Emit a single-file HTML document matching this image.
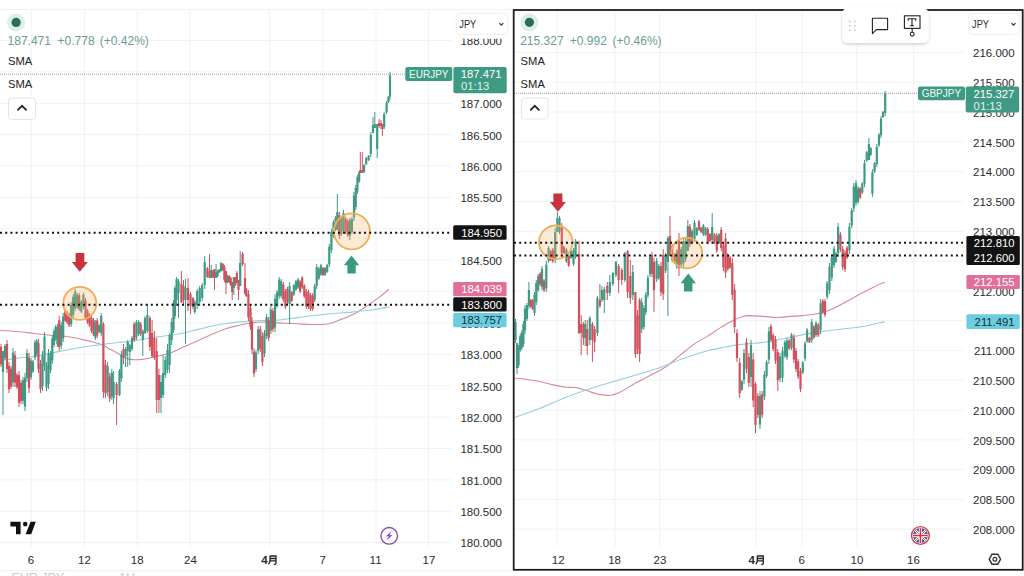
<!DOCTYPE html>
<html><head><meta charset="utf-8"><style>
html,body{margin:0;padding:0;background:#fff;}
body{width:1024px;height:576px;overflow:hidden;position:relative;font-family:"Liberation Sans", sans-serif;}
svg{position:absolute;left:0;top:0;display:block;}
text{font-family:"Liberation Sans", sans-serif;}
</style></head><body>
<svg width="1024" height="576" viewBox="0 0 1024 576">
<line x1="0" y1="542.6" x2="452" y2="542.6" stroke="#f1f2f4" stroke-width="1"/>
<line x1="0" y1="511.2" x2="452" y2="511.2" stroke="#f1f2f4" stroke-width="1"/>
<line x1="0" y1="479.9" x2="452" y2="479.9" stroke="#f1f2f4" stroke-width="1"/>
<line x1="0" y1="448.5" x2="452" y2="448.5" stroke="#f1f2f4" stroke-width="1"/>
<line x1="0" y1="417.1" x2="452" y2="417.1" stroke="#f1f2f4" stroke-width="1"/>
<line x1="0" y1="385.7" x2="452" y2="385.7" stroke="#f1f2f4" stroke-width="1"/>
<line x1="0" y1="354.3" x2="452" y2="354.3" stroke="#f1f2f4" stroke-width="1"/>
<line x1="0" y1="323.0" x2="452" y2="323.0" stroke="#f1f2f4" stroke-width="1"/>
<line x1="0" y1="291.6" x2="452" y2="291.6" stroke="#f1f2f4" stroke-width="1"/>
<line x1="0" y1="260.2" x2="452" y2="260.2" stroke="#f1f2f4" stroke-width="1"/>
<line x1="0" y1="228.8" x2="452" y2="228.8" stroke="#f1f2f4" stroke-width="1"/>
<line x1="0" y1="197.4" x2="452" y2="197.4" stroke="#f1f2f4" stroke-width="1"/>
<line x1="0" y1="166.1" x2="452" y2="166.1" stroke="#f1f2f4" stroke-width="1"/>
<line x1="0" y1="134.7" x2="452" y2="134.7" stroke="#f1f2f4" stroke-width="1"/>
<line x1="0" y1="103.3" x2="452" y2="103.3" stroke="#f1f2f4" stroke-width="1"/>
<line x1="0" y1="71.9" x2="452" y2="71.9" stroke="#f1f2f4" stroke-width="1"/>
<line x1="0" y1="40.5" x2="452" y2="40.5" stroke="#f1f2f4" stroke-width="1"/>
<line x1="0" y1="9.5" x2="512" y2="9.5" stroke="#f1f2f4" stroke-width="1"/>
<line x1="31.25" y1="9.5" x2="31.25" y2="547" stroke="#f1f2f4" stroke-width="1"/>
<line x1="84.4" y1="9.5" x2="84.4" y2="547" stroke="#f1f2f4" stroke-width="1"/>
<line x1="137.2" y1="9.5" x2="137.2" y2="547" stroke="#f1f2f4" stroke-width="1"/>
<line x1="190.1" y1="9.5" x2="190.1" y2="547" stroke="#f1f2f4" stroke-width="1"/>
<line x1="269.5" y1="9.5" x2="269.5" y2="547" stroke="#f1f2f4" stroke-width="1"/>
<line x1="322.7" y1="9.5" x2="322.7" y2="547" stroke="#f1f2f4" stroke-width="1"/>
<line x1="376" y1="9.5" x2="376" y2="547" stroke="#f1f2f4" stroke-width="1"/>
<line x1="428.5" y1="9.5" x2="428.5" y2="547" stroke="#f1f2f4" stroke-width="1"/>
<line x1="0" y1="74.2" x2="405" y2="74.2" stroke="#9aa0a6" stroke-width="1" stroke-dasharray="1 1"/>
<path d="M0,330.5 C2.3,330.6 9.1,330.8 13.7,331.2 C18.3,331.6 22.8,332.1 27.4,332.6 C31.9,333.1 36.5,333.8 41,334.3 C45.5,334.8 50.1,335.3 54.7,335.7 C59.3,336.1 63.9,336.1 68.4,336.7 C73.0,337.3 77.4,338.4 82,339.4 C86.6,340.4 92.1,341.7 95.8,342.8 C99.5,343.9 101.7,344.8 104,345.8 C106.3,346.8 107.4,347.9 109.4,349 C111.5,350.1 114.0,351.1 116.3,352.4 C118.6,353.6 120.8,355.3 123.1,356.5 C125.4,357.7 126.6,359.0 130,359.4 C133.4,359.8 139.1,359.7 143.7,359.1 C148.3,358.6 152.8,357.2 157.4,356.1 C162.0,355.0 166.4,354.3 171,352.7 C175.6,351.1 180.1,348.6 184.7,346.5 C189.3,344.4 193.8,342.4 198.4,340.4 C203.0,338.3 207.4,336.1 212,334.2 C216.6,332.2 221.2,330.2 225.8,328.7 C230.4,327.2 235.5,326.2 239.4,325.3 C243.3,324.4 245.6,323.9 249,323.3 C252.4,322.8 256.5,322.2 260,322 C263.5,321.8 266.1,322.1 270,322.3 C273.9,322.5 279.1,322.9 283.7,323.2 C288.3,323.4 292.8,323.6 297.4,323.8 C301.9,324.0 306.0,324.5 311,324.5 C316.0,324.5 322.9,324.7 327.5,324 C332.1,323.3 334.3,321.9 338.4,320.4 C342.5,318.9 347.4,317.2 352,314.9 C356.6,312.6 361.2,309.7 365.8,306.7 C370.4,303.7 375.5,300.0 379.4,297.1 C383.3,294.2 387.4,290.6 389,289.3" fill="none" stroke="#d98a9c" stroke-width="1.1"/>
<path d="M0,360.5 C3.0,360.1 12.1,358.9 17.8,358.2 C23.5,357.5 28.1,357.5 34.2,356.5 C40.4,355.5 49.0,353.5 54.7,352.4 C60.4,351.3 63.9,350.6 68.4,349.7 C73.0,348.8 77.4,347.9 82,347.2 C86.6,346.5 91.2,345.9 95.8,345.3 C100.4,344.7 104.9,344.0 109.4,343.5 C114.0,343.0 118.5,342.6 123.1,342.1 C127.7,341.6 131.1,341.2 136.8,340.3 C142.5,339.4 151.7,337.7 157.4,336.9 C163.1,336.1 166.4,336.0 171,335.3 C175.6,334.6 180.1,333.8 184.7,332.8 C189.3,331.8 193.8,330.5 198.4,329.4 C203.0,328.3 207.4,327.0 212,326 C216.6,325.0 221.2,324.2 225.8,323.5 C230.4,322.8 233.7,322.4 239.4,321.9 C245.1,321.4 253.8,320.8 260,320.5 C266.2,320.2 270.6,320.7 276.8,320.2 C283.0,319.7 289.4,318.6 297.4,317.6 C305.4,316.6 315.6,315.1 324.7,314.2 C333.8,313.3 344.0,312.8 352,312.1 C360.0,311.4 366.4,310.6 372.6,309.8 C378.8,309.0 386.3,307.6 389,307.1" fill="none" stroke="#93d0dc" stroke-width="1.1"/>
<rect x="0.50" y="344" width="1.0" height="23" fill="#d0505b"/>
<rect x="-0.10" y="346.8" width="2.2" height="17.5" fill="#d0505b"/>
<rect x="2.50" y="351" width="1.0" height="64" fill="#3f9a84"/>
<rect x="1.90" y="351.0" width="2.2" height="21.0" fill="#3f9a84"/>
<rect x="4.50" y="344" width="1.0" height="16" fill="#3f9a84"/>
<rect x="3.90" y="345.9" width="2.2" height="12.2" fill="#3f9a84"/>
<rect x="6.50" y="340" width="1.0" height="33" fill="#d0505b"/>
<rect x="5.90" y="344.0" width="2.2" height="25.1" fill="#d0505b"/>
<rect x="8.50" y="362" width="1.0" height="31" fill="#d0505b"/>
<rect x="7.90" y="365.7" width="2.2" height="23.6" fill="#d0505b"/>
<rect x="10.50" y="366" width="1.0" height="23" fill="#d0505b"/>
<rect x="9.90" y="368.8" width="2.2" height="17.5" fill="#d0505b"/>
<rect x="12.50" y="348" width="1.0" height="39" fill="#3f9a84"/>
<rect x="11.90" y="352.7" width="2.2" height="29.6" fill="#3f9a84"/>
<rect x="14.50" y="351" width="1.0" height="36" fill="#d0505b"/>
<rect x="13.90" y="355.3" width="2.2" height="27.4" fill="#d0505b"/>
<rect x="16.50" y="373" width="1.0" height="16" fill="#d0505b"/>
<rect x="15.90" y="374.9" width="2.2" height="12.2" fill="#d0505b"/>
<rect x="18.50" y="371" width="1.0" height="36" fill="#d0505b"/>
<rect x="17.90" y="375.3" width="2.2" height="27.4" fill="#d0505b"/>
<rect x="20.50" y="380" width="1.0" height="24" fill="#d0505b"/>
<rect x="19.90" y="382.9" width="2.2" height="18.2" fill="#d0505b"/>
<rect x="22.50" y="377" width="1.0" height="27" fill="#3f9a84"/>
<rect x="21.90" y="380.2" width="2.2" height="20.5" fill="#3f9a84"/>
<rect x="24.50" y="373" width="1.0" height="38" fill="#3f9a84"/>
<rect x="23.90" y="377.6" width="2.2" height="28.9" fill="#3f9a84"/>
<rect x="26.50" y="349" width="1.0" height="33" fill="#3f9a84"/>
<rect x="25.90" y="353.0" width="2.2" height="25.1" fill="#3f9a84"/>
<rect x="28.50" y="353" width="1.0" height="40" fill="#d0505b"/>
<rect x="27.90" y="357.8" width="2.2" height="30.4" fill="#d0505b"/>
<rect x="30.50" y="358" width="1.0" height="22" fill="#3f9a84"/>
<rect x="29.90" y="360.6" width="2.2" height="16.7" fill="#3f9a84"/>
<rect x="32.50" y="360" width="1.0" height="13" fill="#3f9a84"/>
<rect x="31.90" y="361.6" width="2.2" height="9.9" fill="#3f9a84"/>
<rect x="34.50" y="340" width="1.0" height="20" fill="#3f9a84"/>
<rect x="33.90" y="342.4" width="2.2" height="15.2" fill="#3f9a84"/>
<rect x="36.20" y="339" width="1.0" height="17" fill="#3f9a84"/>
<rect x="35.60" y="341.0" width="2.2" height="12.9" fill="#3f9a84"/>
<rect x="38.00" y="339" width="1.0" height="34" fill="#d0505b"/>
<rect x="37.40" y="343.1" width="2.2" height="25.8" fill="#d0505b"/>
<rect x="40.00" y="360" width="1.0" height="33" fill="#d0505b"/>
<rect x="39.40" y="364.0" width="2.2" height="25.1" fill="#d0505b"/>
<rect x="42.00" y="351" width="1.0" height="40" fill="#3f9a84"/>
<rect x="41.40" y="355.8" width="2.2" height="30.4" fill="#3f9a84"/>
<rect x="44.00" y="332" width="1.0" height="39" fill="#3f9a84"/>
<rect x="43.40" y="336.7" width="2.2" height="29.6" fill="#3f9a84"/>
<rect x="46.00" y="362" width="1.0" height="29" fill="#3f9a84"/>
<rect x="45.40" y="365.5" width="2.2" height="22.0" fill="#3f9a84"/>
<rect x="48.00" y="349" width="1.0" height="40" fill="#3f9a84"/>
<rect x="47.40" y="353.8" width="2.2" height="30.4" fill="#3f9a84"/>
<rect x="50.00" y="351" width="1.0" height="22" fill="#3f9a84"/>
<rect x="49.40" y="353.6" width="2.2" height="16.7" fill="#3f9a84"/>
<rect x="51.80" y="335" width="1.0" height="29" fill="#3f9a84"/>
<rect x="51.20" y="338.5" width="2.2" height="22.0" fill="#3f9a84"/>
<rect x="53.50" y="329" width="1.0" height="18" fill="#3f9a84"/>
<rect x="52.90" y="331.2" width="2.2" height="13.7" fill="#3f9a84"/>
<rect x="55.20" y="325" width="1.0" height="16" fill="#3f9a84"/>
<rect x="54.60" y="326.9" width="2.2" height="12.2" fill="#3f9a84"/>
<rect x="56.90" y="324" width="1.0" height="23" fill="#3f9a84"/>
<rect x="56.30" y="326.8" width="2.2" height="17.5" fill="#3f9a84"/>
<rect x="58.70" y="316" width="1.0" height="35" fill="#d0505b"/>
<rect x="58.10" y="320.2" width="2.2" height="26.6" fill="#d0505b"/>
<rect x="60.70" y="322" width="1.0" height="27" fill="#3f9a84"/>
<rect x="60.10" y="325.2" width="2.2" height="20.5" fill="#3f9a84"/>
<rect x="62.70" y="313" width="1.0" height="29" fill="#3f9a84"/>
<rect x="62.10" y="316.5" width="2.2" height="22.0" fill="#3f9a84"/>
<rect x="64.70" y="309" width="1.0" height="13" fill="#d0505b"/>
<rect x="64.10" y="310.6" width="2.2" height="9.9" fill="#d0505b"/>
<rect x="66.70" y="311" width="1.0" height="13" fill="#d0505b"/>
<rect x="66.10" y="312.6" width="2.2" height="9.9" fill="#d0505b"/>
<rect x="68.70" y="313" width="1.0" height="14" fill="#d0505b"/>
<rect x="68.10" y="314.7" width="2.2" height="10.6" fill="#d0505b"/>
<rect x="70.70" y="302" width="1.0" height="25" fill="#3f9a84"/>
<rect x="70.10" y="305.0" width="2.2" height="19.0" fill="#3f9a84"/>
<rect x="72.70" y="294" width="1.0" height="24" fill="#3f9a84"/>
<rect x="72.10" y="296.9" width="2.2" height="18.2" fill="#3f9a84"/>
<rect x="74.70" y="289" width="1.0" height="22" fill="#3f9a84"/>
<rect x="74.10" y="291.6" width="2.2" height="16.7" fill="#3f9a84"/>
<rect x="76.70" y="293" width="1.0" height="16" fill="#3f9a84"/>
<rect x="76.10" y="294.9" width="2.2" height="12.2" fill="#3f9a84"/>
<rect x="78.70" y="293" width="1.0" height="18" fill="#d0505b"/>
<rect x="78.10" y="295.2" width="2.2" height="13.7" fill="#d0505b"/>
<rect x="80.80" y="300" width="1.0" height="13" fill="#3f9a84"/>
<rect x="80.20" y="301.6" width="2.2" height="9.9" fill="#3f9a84"/>
<rect x="82.90" y="293" width="1.0" height="16" fill="#3f9a84"/>
<rect x="82.30" y="294.9" width="2.2" height="12.2" fill="#3f9a84"/>
<rect x="85.00" y="298" width="1.0" height="22" fill="#d0505b"/>
<rect x="84.40" y="300.6" width="2.2" height="16.7" fill="#d0505b"/>
<rect x="87.00" y="309" width="1.0" height="15" fill="#d0505b"/>
<rect x="86.40" y="310.8" width="2.2" height="11.4" fill="#d0505b"/>
<rect x="89.00" y="313" width="1.0" height="14" fill="#d0505b"/>
<rect x="88.40" y="314.7" width="2.2" height="10.6" fill="#d0505b"/>
<rect x="91.00" y="316" width="1.0" height="17" fill="#d0505b"/>
<rect x="90.40" y="318.0" width="2.2" height="12.9" fill="#d0505b"/>
<rect x="93.00" y="318" width="1.0" height="18" fill="#d0505b"/>
<rect x="92.40" y="320.2" width="2.2" height="13.7" fill="#d0505b"/>
<rect x="94.80" y="320" width="1.0" height="20" fill="#3f9a84"/>
<rect x="94.20" y="322.4" width="2.2" height="15.2" fill="#3f9a84"/>
<rect x="96.70" y="318" width="1.0" height="20" fill="#d0505b"/>
<rect x="96.10" y="320.4" width="2.2" height="15.2" fill="#d0505b"/>
<rect x="98.60" y="324" width="1.0" height="9" fill="#3f9a84"/>
<rect x="98.00" y="325.1" width="2.2" height="6.8" fill="#3f9a84"/>
<rect x="100.70" y="313" width="1.0" height="23" fill="#3f9a84"/>
<rect x="100.10" y="315.8" width="2.2" height="17.5" fill="#3f9a84"/>
<rect x="102.90" y="322" width="1.0" height="76" fill="#d0505b"/>
<rect x="102.30" y="324.0" width="2.2" height="68.0" fill="#d0505b"/>
<rect x="105.00" y="360" width="1.0" height="38" fill="#d0505b"/>
<rect x="104.40" y="364.6" width="2.2" height="28.9" fill="#d0505b"/>
<rect x="107.10" y="362" width="1.0" height="34" fill="#3f9a84"/>
<rect x="106.50" y="366.1" width="2.2" height="25.8" fill="#3f9a84"/>
<rect x="109.20" y="373" width="1.0" height="29" fill="#d0505b"/>
<rect x="108.60" y="376.5" width="2.2" height="22.0" fill="#d0505b"/>
<rect x="111.30" y="369" width="1.0" height="31" fill="#3f9a84"/>
<rect x="110.70" y="372.7" width="2.2" height="23.6" fill="#3f9a84"/>
<rect x="113.10" y="371" width="1.0" height="33" fill="#3f9a84"/>
<rect x="112.50" y="382.0" width="2.2" height="16.0" fill="#3f9a84"/>
<rect x="116.10" y="382" width="1.0" height="43" fill="#d0505b"/>
<rect x="115.50" y="384.0" width="2.2" height="11.0" fill="#d0505b"/>
<rect x="119.00" y="369" width="1.0" height="27" fill="#3f9a84"/>
<rect x="118.40" y="371.0" width="2.2" height="24.0" fill="#3f9a84"/>
<rect x="120.90" y="351" width="1.0" height="31" fill="#3f9a84"/>
<rect x="120.30" y="354.7" width="2.2" height="23.6" fill="#3f9a84"/>
<rect x="123.00" y="344" width="1.0" height="20" fill="#d0505b"/>
<rect x="122.40" y="349.0" width="2.2" height="9.0" fill="#d0505b"/>
<rect x="125.10" y="347" width="1.0" height="20" fill="#3f9a84"/>
<rect x="124.50" y="349.0" width="2.2" height="7.0" fill="#3f9a84"/>
<rect x="127.20" y="340" width="1.0" height="27" fill="#3f9a84"/>
<rect x="126.60" y="342.0" width="2.2" height="9.0" fill="#3f9a84"/>
<rect x="129.30" y="344" width="1.0" height="21" fill="#3f9a84"/>
<rect x="128.70" y="345.0" width="2.2" height="7.0" fill="#3f9a84"/>
<rect x="131.50" y="336" width="1.0" height="15" fill="#3f9a84"/>
<rect x="130.90" y="338.0" width="2.2" height="11.0" fill="#3f9a84"/>
<rect x="133.70" y="322" width="1.0" height="20" fill="#d0505b"/>
<rect x="133.10" y="324.0" width="2.2" height="16.0" fill="#d0505b"/>
<rect x="135.90" y="320" width="1.0" height="20" fill="#3f9a84"/>
<rect x="135.30" y="322.4" width="2.2" height="15.2" fill="#3f9a84"/>
<rect x="138.10" y="320" width="1.0" height="16" fill="#3f9a84"/>
<rect x="137.50" y="322.0" width="2.2" height="12.0" fill="#3f9a84"/>
<rect x="140.10" y="322" width="1.0" height="14" fill="#d0505b"/>
<rect x="139.50" y="324.0" width="2.2" height="10.0" fill="#d0505b"/>
<rect x="142.30" y="329" width="1.0" height="27" fill="#3f9a84"/>
<rect x="141.70" y="331.0" width="2.2" height="9.0" fill="#3f9a84"/>
<rect x="144.50" y="316" width="1.0" height="18" fill="#3f9a84"/>
<rect x="143.90" y="318.0" width="2.2" height="15.0" fill="#3f9a84"/>
<rect x="146.90" y="304" width="1.0" height="29" fill="#3f9a84"/>
<rect x="146.30" y="315.0" width="2.2" height="16.0" fill="#3f9a84"/>
<rect x="149.40" y="316" width="1.0" height="35" fill="#d0505b"/>
<rect x="148.80" y="318.0" width="2.2" height="29.0" fill="#d0505b"/>
<rect x="151.60" y="320" width="1.0" height="38" fill="#d0505b"/>
<rect x="151.00" y="333.0" width="2.2" height="23.0" fill="#d0505b"/>
<rect x="153.90" y="331" width="1.0" height="29" fill="#d0505b"/>
<rect x="153.30" y="338.0" width="2.2" height="20.0" fill="#d0505b"/>
<rect x="156.20" y="338" width="1.0" height="75" fill="#d0505b"/>
<rect x="155.60" y="351.0" width="2.2" height="49.0" fill="#d0505b"/>
<rect x="158.40" y="369" width="1.0" height="44" fill="#d0505b"/>
<rect x="157.80" y="375.0" width="2.2" height="25.0" fill="#d0505b"/>
<rect x="160.50" y="375" width="1.0" height="38" fill="#3f9a84"/>
<rect x="159.90" y="382.0" width="2.2" height="16.0" fill="#3f9a84"/>
<rect x="162.60" y="355" width="1.0" height="43" fill="#3f9a84"/>
<rect x="162.00" y="373.0" width="2.2" height="22.0" fill="#3f9a84"/>
<rect x="164.80" y="356" width="1.0" height="22" fill="#3f9a84"/>
<rect x="164.20" y="360.0" width="2.2" height="15.0" fill="#3f9a84"/>
<rect x="167.00" y="344" width="1.0" height="29" fill="#3f9a84"/>
<rect x="166.40" y="350.0" width="2.2" height="20.0" fill="#3f9a84"/>
<rect x="169.10" y="333" width="1.0" height="40" fill="#3f9a84"/>
<rect x="168.50" y="335.0" width="2.2" height="30.0" fill="#3f9a84"/>
<rect x="171.20" y="318" width="1.0" height="27" fill="#3f9a84"/>
<rect x="170.60" y="322.0" width="2.2" height="18.0" fill="#3f9a84"/>
<rect x="173.00" y="300" width="1.0" height="33" fill="#3f9a84"/>
<rect x="172.40" y="303.0" width="2.2" height="27.0" fill="#3f9a84"/>
<rect x="174.40" y="286" width="1.0" height="33" fill="#3f9a84"/>
<rect x="173.80" y="288.0" width="2.2" height="28.0" fill="#3f9a84"/>
<rect x="176.10" y="277" width="1.0" height="29" fill="#3f9a84"/>
<rect x="175.50" y="279.0" width="2.2" height="21.0" fill="#3f9a84"/>
<rect x="178.00" y="279" width="1.0" height="39" fill="#3f9a84"/>
<rect x="177.40" y="281.0" width="2.2" height="12.0" fill="#3f9a84"/>
<rect x="180.90" y="271" width="1.0" height="32" fill="#d0505b"/>
<rect x="180.30" y="284.0" width="2.2" height="18.0" fill="#d0505b"/>
<rect x="183.00" y="280" width="1.0" height="25" fill="#d0505b"/>
<rect x="182.40" y="286.0" width="2.2" height="14.0" fill="#d0505b"/>
<rect x="185.00" y="279" width="1.0" height="65" fill="#3f9a84"/>
<rect x="184.40" y="288.0" width="2.2" height="12.0" fill="#3f9a84"/>
<rect x="187.50" y="278" width="1.0" height="33" fill="#d0505b"/>
<rect x="186.90" y="288.0" width="2.2" height="12.0" fill="#d0505b"/>
<rect x="190.00" y="292" width="1.0" height="22" fill="#d0505b"/>
<rect x="189.40" y="294.0" width="2.2" height="12.0" fill="#d0505b"/>
<rect x="192.50" y="297" width="1.0" height="12" fill="#d0505b"/>
<rect x="191.90" y="298.0" width="2.2" height="9.0" fill="#d0505b"/>
<rect x="194.30" y="300" width="1.0" height="14" fill="#3f9a84"/>
<rect x="193.70" y="302.0" width="2.2" height="10.0" fill="#3f9a84"/>
<rect x="196.70" y="289" width="1.0" height="20" fill="#3f9a84"/>
<rect x="196.10" y="291.0" width="2.2" height="14.0" fill="#3f9a84"/>
<rect x="199.20" y="286" width="1.0" height="20" fill="#3f9a84"/>
<rect x="198.60" y="288.0" width="2.2" height="14.0" fill="#3f9a84"/>
<rect x="201.70" y="283" width="1.0" height="18" fill="#3f9a84"/>
<rect x="201.10" y="285.0" width="2.2" height="13.0" fill="#3f9a84"/>
<rect x="204.20" y="256" width="1.0" height="33" fill="#3f9a84"/>
<rect x="203.60" y="262.0" width="2.2" height="23.0" fill="#3f9a84"/>
<rect x="206.90" y="267" width="1.0" height="11" fill="#d0505b"/>
<rect x="206.30" y="268.3" width="2.2" height="8.4" fill="#d0505b"/>
<rect x="209.00" y="254" width="1.0" height="24" fill="#d0505b"/>
<rect x="208.40" y="271.0" width="2.2" height="7.0" fill="#d0505b"/>
<rect x="210.80" y="265" width="1.0" height="13" fill="#3f9a84"/>
<rect x="210.20" y="270.0" width="2.2" height="8.0" fill="#3f9a84"/>
<rect x="212.40" y="270" width="1.0" height="8" fill="#d0505b"/>
<rect x="211.80" y="271.0" width="2.2" height="6.1" fill="#d0505b"/>
<rect x="214.00" y="269" width="1.0" height="21" fill="#d0505b"/>
<rect x="213.40" y="269.0" width="2.2" height="9.0" fill="#d0505b"/>
<rect x="215.60" y="264" width="1.0" height="14" fill="#3f9a84"/>
<rect x="215.00" y="272.0" width="2.2" height="6.0" fill="#3f9a84"/>
<rect x="217.10" y="270" width="1.0" height="7" fill="#3f9a84"/>
<rect x="216.50" y="270.8" width="2.2" height="5.3" fill="#3f9a84"/>
<rect x="218.70" y="269" width="1.0" height="4" fill="#3f9a84"/>
<rect x="218.10" y="269.5" width="2.2" height="3.0" fill="#3f9a84"/>
<rect x="220.50" y="262" width="1.0" height="10" fill="#3f9a84"/>
<rect x="219.90" y="263.2" width="2.2" height="7.6" fill="#3f9a84"/>
<rect x="222.30" y="263" width="1.0" height="8" fill="#d0505b"/>
<rect x="221.70" y="264.0" width="2.2" height="6.1" fill="#d0505b"/>
<rect x="223.90" y="265" width="1.0" height="17" fill="#d0505b"/>
<rect x="223.30" y="267.0" width="2.2" height="12.9" fill="#d0505b"/>
<rect x="225.50" y="271" width="1.0" height="23" fill="#d0505b"/>
<rect x="224.90" y="271.0" width="2.2" height="12.0" fill="#d0505b"/>
<rect x="227.00" y="275" width="1.0" height="8" fill="#3f9a84"/>
<rect x="226.40" y="276.0" width="2.2" height="6.1" fill="#3f9a84"/>
<rect x="228.60" y="275" width="1.0" height="8" fill="#d0505b"/>
<rect x="228.00" y="276.0" width="2.2" height="6.1" fill="#d0505b"/>
<rect x="230.20" y="277" width="1.0" height="9" fill="#d0505b"/>
<rect x="229.60" y="278.1" width="2.2" height="6.8" fill="#d0505b"/>
<rect x="231.70" y="282" width="1.0" height="18" fill="#d0505b"/>
<rect x="231.10" y="282.0" width="2.2" height="10.0" fill="#d0505b"/>
<rect x="233.30" y="277" width="1.0" height="18" fill="#3f9a84"/>
<rect x="232.70" y="277.0" width="2.2" height="11.0" fill="#3f9a84"/>
<rect x="234.80" y="277" width="1.0" height="9" fill="#d0505b"/>
<rect x="234.20" y="278.1" width="2.2" height="6.8" fill="#d0505b"/>
<rect x="236.40" y="271" width="1.0" height="12" fill="#d0505b"/>
<rect x="235.80" y="273.0" width="2.2" height="10.0" fill="#d0505b"/>
<rect x="238.00" y="280" width="1.0" height="20" fill="#d0505b"/>
<rect x="237.40" y="280.0" width="2.2" height="10.0" fill="#d0505b"/>
<rect x="239.70" y="251" width="1.0" height="35" fill="#3f9a84"/>
<rect x="239.10" y="263.0" width="2.2" height="23.0" fill="#3f9a84"/>
<rect x="242.10" y="252" width="1.0" height="14" fill="#d0505b"/>
<rect x="241.50" y="253.7" width="2.2" height="10.6" fill="#d0505b"/>
<rect x="244.50" y="263" width="1.0" height="31" fill="#d0505b"/>
<rect x="243.90" y="278.0" width="2.2" height="16.0" fill="#d0505b"/>
<rect x="245.80" y="288" width="1.0" height="9" fill="#d0505b"/>
<rect x="245.20" y="289.1" width="2.2" height="6.8" fill="#d0505b"/>
<rect x="247.90" y="290" width="1.0" height="31" fill="#d0505b"/>
<rect x="247.30" y="293.7" width="2.2" height="23.6" fill="#d0505b"/>
<rect x="250.00" y="305" width="1.0" height="25" fill="#d0505b"/>
<rect x="249.40" y="308.0" width="2.2" height="19.0" fill="#d0505b"/>
<rect x="251.50" y="317" width="1.0" height="37" fill="#d0505b"/>
<rect x="250.90" y="321.4" width="2.2" height="28.1" fill="#d0505b"/>
<rect x="253.50" y="348" width="1.0" height="29" fill="#d0505b"/>
<rect x="252.90" y="351.5" width="2.2" height="22.0" fill="#d0505b"/>
<rect x="255.50" y="350" width="1.0" height="22" fill="#3f9a84"/>
<rect x="254.90" y="352.6" width="2.2" height="16.7" fill="#3f9a84"/>
<rect x="257.70" y="326" width="1.0" height="28" fill="#3f9a84"/>
<rect x="257.10" y="329.4" width="2.2" height="21.3" fill="#3f9a84"/>
<rect x="259.80" y="326" width="1.0" height="26" fill="#d0505b"/>
<rect x="259.20" y="329.1" width="2.2" height="19.8" fill="#d0505b"/>
<rect x="261.90" y="332" width="1.0" height="34" fill="#d0505b"/>
<rect x="261.30" y="336.1" width="2.2" height="25.8" fill="#d0505b"/>
<rect x="264.00" y="330" width="1.0" height="27" fill="#3f9a84"/>
<rect x="263.40" y="333.2" width="2.2" height="20.5" fill="#3f9a84"/>
<rect x="266.10" y="314" width="1.0" height="25" fill="#3f9a84"/>
<rect x="265.50" y="317.0" width="2.2" height="19.0" fill="#3f9a84"/>
<rect x="268.20" y="317" width="1.0" height="24" fill="#d0505b"/>
<rect x="267.60" y="319.9" width="2.2" height="18.2" fill="#d0505b"/>
<rect x="270.30" y="306" width="1.0" height="28" fill="#3f9a84"/>
<rect x="269.70" y="309.4" width="2.2" height="21.3" fill="#3f9a84"/>
<rect x="272.40" y="308" width="1.0" height="24" fill="#d0505b"/>
<rect x="271.80" y="310.9" width="2.2" height="18.2" fill="#d0505b"/>
<rect x="274.50" y="294" width="1.0" height="38" fill="#3f9a84"/>
<rect x="273.90" y="298.6" width="2.2" height="28.9" fill="#3f9a84"/>
<rect x="276.60" y="290" width="1.0" height="18" fill="#3f9a84"/>
<rect x="276.00" y="292.2" width="2.2" height="13.7" fill="#3f9a84"/>
<rect x="278.70" y="277" width="1.0" height="22" fill="#3f9a84"/>
<rect x="278.10" y="279.6" width="2.2" height="16.7" fill="#3f9a84"/>
<rect x="280.70" y="279" width="1.0" height="19" fill="#3f9a84"/>
<rect x="280.10" y="281.3" width="2.2" height="14.4" fill="#3f9a84"/>
<rect x="282.80" y="282" width="1.0" height="20" fill="#d0505b"/>
<rect x="282.20" y="284.4" width="2.2" height="15.2" fill="#d0505b"/>
<rect x="284.90" y="289" width="1.0" height="20" fill="#d0505b"/>
<rect x="284.30" y="291.4" width="2.2" height="15.2" fill="#d0505b"/>
<rect x="287.00" y="287" width="1.0" height="17" fill="#d0505b"/>
<rect x="286.40" y="289.0" width="2.2" height="12.9" fill="#d0505b"/>
<rect x="289.10" y="282" width="1.0" height="42" fill="#3f9a84"/>
<rect x="288.50" y="286.0" width="2.2" height="18.0" fill="#3f9a84"/>
<rect x="291.20" y="291" width="1.0" height="11" fill="#d0505b"/>
<rect x="290.60" y="292.3" width="2.2" height="8.4" fill="#d0505b"/>
<rect x="293.30" y="284" width="1.0" height="12" fill="#3f9a84"/>
<rect x="292.70" y="285.4" width="2.2" height="9.1" fill="#3f9a84"/>
<rect x="295.40" y="280" width="1.0" height="11" fill="#3f9a84"/>
<rect x="294.80" y="281.3" width="2.2" height="8.4" fill="#3f9a84"/>
<rect x="297.50" y="278" width="1.0" height="11" fill="#3f9a84"/>
<rect x="296.90" y="279.3" width="2.2" height="8.4" fill="#3f9a84"/>
<rect x="299.60" y="280" width="1.0" height="13" fill="#d0505b"/>
<rect x="299.00" y="281.6" width="2.2" height="9.9" fill="#d0505b"/>
<rect x="301.70" y="276" width="1.0" height="13" fill="#d0505b"/>
<rect x="301.10" y="277.6" width="2.2" height="9.9" fill="#d0505b"/>
<rect x="303.80" y="284" width="1.0" height="14" fill="#d0505b"/>
<rect x="303.20" y="285.7" width="2.2" height="10.6" fill="#d0505b"/>
<rect x="305.90" y="289" width="1.0" height="20" fill="#d0505b"/>
<rect x="305.30" y="291.4" width="2.2" height="15.2" fill="#d0505b"/>
<rect x="308.00" y="290" width="1.0" height="19" fill="#d0505b"/>
<rect x="307.40" y="292.3" width="2.2" height="14.4" fill="#d0505b"/>
<rect x="310.10" y="293" width="1.0" height="18" fill="#d0505b"/>
<rect x="309.50" y="295.2" width="2.2" height="13.7" fill="#d0505b"/>
<rect x="312.20" y="293" width="1.0" height="18" fill="#d0505b"/>
<rect x="311.60" y="295.2" width="2.2" height="13.7" fill="#d0505b"/>
<rect x="314.20" y="284" width="1.0" height="18" fill="#3f9a84"/>
<rect x="313.60" y="286.2" width="2.2" height="13.7" fill="#3f9a84"/>
<rect x="316.20" y="264" width="1.0" height="25" fill="#3f9a84"/>
<rect x="315.60" y="267.0" width="2.2" height="19.0" fill="#3f9a84"/>
<rect x="318.30" y="267" width="1.0" height="13" fill="#3f9a84"/>
<rect x="317.70" y="268.6" width="2.2" height="9.9" fill="#3f9a84"/>
<rect x="320.40" y="264" width="1.0" height="12" fill="#3f9a84"/>
<rect x="319.80" y="265.4" width="2.2" height="9.1" fill="#3f9a84"/>
<rect x="322.50" y="267" width="1.0" height="9" fill="#d0505b"/>
<rect x="321.90" y="268.1" width="2.2" height="6.8" fill="#d0505b"/>
<rect x="324.60" y="267" width="1.0" height="9" fill="#3f9a84"/>
<rect x="324.00" y="268.1" width="2.2" height="6.8" fill="#3f9a84"/>
<rect x="326.70" y="264" width="1.0" height="9" fill="#3f9a84"/>
<rect x="326.10" y="265.1" width="2.2" height="6.8" fill="#3f9a84"/>
<rect x="328.80" y="244" width="1.0" height="23" fill="#3f9a84"/>
<rect x="328.20" y="246.8" width="2.2" height="17.5" fill="#3f9a84"/>
<rect x="330.90" y="229" width="1.0" height="24" fill="#3f9a84"/>
<rect x="330.30" y="231.9" width="2.2" height="18.2" fill="#3f9a84"/>
<rect x="333.00" y="220" width="1.0" height="18" fill="#3f9a84"/>
<rect x="332.40" y="222.2" width="2.2" height="13.7" fill="#3f9a84"/>
<rect x="335.10" y="216" width="1.0" height="15" fill="#3f9a84"/>
<rect x="334.50" y="217.8" width="2.2" height="11.4" fill="#3f9a84"/>
<rect x="336.80" y="194" width="1.0" height="36" fill="#3f9a84"/>
<rect x="336.20" y="212.0" width="2.2" height="18.0" fill="#3f9a84"/>
<rect x="338.80" y="212" width="1.0" height="27" fill="#d0505b"/>
<rect x="338.20" y="215.2" width="2.2" height="20.5" fill="#d0505b"/>
<rect x="340.90" y="216" width="1.0" height="20" fill="#3f9a84"/>
<rect x="340.30" y="218.4" width="2.2" height="15.2" fill="#3f9a84"/>
<rect x="343.00" y="210" width="1.0" height="24" fill="#3f9a84"/>
<rect x="342.40" y="212.9" width="2.2" height="18.2" fill="#3f9a84"/>
<rect x="345.10" y="217" width="1.0" height="17" fill="#d0505b"/>
<rect x="344.50" y="219.0" width="2.2" height="12.9" fill="#d0505b"/>
<rect x="347.20" y="219" width="1.0" height="18" fill="#d0505b"/>
<rect x="346.60" y="221.2" width="2.2" height="13.7" fill="#d0505b"/>
<rect x="349.30" y="218" width="1.0" height="22" fill="#3f9a84"/>
<rect x="348.70" y="220.0" width="2.2" height="16.0" fill="#3f9a84"/>
<rect x="351.40" y="217" width="1.0" height="17" fill="#3f9a84"/>
<rect x="350.80" y="219.0" width="2.2" height="12.9" fill="#3f9a84"/>
<rect x="353.50" y="192" width="1.0" height="29" fill="#3f9a84"/>
<rect x="352.90" y="195.5" width="2.2" height="22.0" fill="#3f9a84"/>
<rect x="355.20" y="185" width="1.0" height="25" fill="#3f9a84"/>
<rect x="354.60" y="188.0" width="2.2" height="19.0" fill="#3f9a84"/>
<rect x="356.90" y="175" width="1.0" height="19" fill="#3f9a84"/>
<rect x="356.30" y="177.3" width="2.2" height="14.4" fill="#3f9a84"/>
<rect x="358.70" y="171" width="1.0" height="12" fill="#3f9a84"/>
<rect x="358.10" y="172.4" width="2.2" height="9.1" fill="#3f9a84"/>
<rect x="359.80" y="152" width="1.0" height="21" fill="#d0505b"/>
<rect x="359.20" y="170.0" width="2.2" height="3.0" fill="#d0505b"/>
<rect x="361.80" y="152" width="1.0" height="21" fill="#d0505b"/>
<rect x="361.20" y="170.0" width="2.2" height="3.0" fill="#d0505b"/>
<rect x="363.60" y="164" width="1.0" height="9" fill="#3f9a84"/>
<rect x="363.00" y="165.1" width="2.2" height="6.8" fill="#3f9a84"/>
<rect x="365.70" y="157" width="1.0" height="8" fill="#3f9a84"/>
<rect x="365.10" y="158.0" width="2.2" height="6.1" fill="#3f9a84"/>
<rect x="368.10" y="155" width="1.0" height="6" fill="#3f9a84"/>
<rect x="367.50" y="155.7" width="2.2" height="4.6" fill="#3f9a84"/>
<rect x="370.30" y="132" width="1.0" height="25" fill="#3f9a84"/>
<rect x="369.70" y="135.0" width="2.2" height="19.0" fill="#3f9a84"/>
<rect x="372.50" y="117" width="1.0" height="16" fill="#3f9a84"/>
<rect x="371.90" y="125.0" width="2.2" height="8.0" fill="#3f9a84"/>
<rect x="374.30" y="112" width="1.0" height="16" fill="#3f9a84"/>
<rect x="373.70" y="124.0" width="2.2" height="4.0" fill="#3f9a84"/>
<rect x="376.70" y="124" width="1.0" height="34" fill="#3f9a84"/>
<rect x="376.10" y="124.0" width="2.2" height="25.0" fill="#3f9a84"/>
<rect x="378.60" y="119" width="1.0" height="9" fill="#d0505b"/>
<rect x="378.00" y="123.0" width="2.2" height="3.0" fill="#d0505b"/>
<rect x="380.50" y="120" width="1.0" height="9" fill="#d0505b"/>
<rect x="379.90" y="123.0" width="2.2" height="3.0" fill="#d0505b"/>
<rect x="381.90" y="124" width="1.0" height="12" fill="#d0505b"/>
<rect x="381.30" y="125.0" width="2.2" height="4.0" fill="#d0505b"/>
<rect x="383.70" y="112" width="1.0" height="17" fill="#3f9a84"/>
<rect x="383.10" y="114.0" width="2.2" height="12.9" fill="#3f9a84"/>
<rect x="386.10" y="101" width="1.0" height="13" fill="#3f9a84"/>
<rect x="385.50" y="102.6" width="2.2" height="9.9" fill="#3f9a84"/>
<rect x="387.90" y="96" width="1.0" height="7" fill="#3f9a84"/>
<rect x="387.30" y="96.8" width="2.2" height="5.3" fill="#3f9a84"/>
<rect x="389.50" y="72" width="1.0" height="28" fill="#3f9a84"/>
<rect x="388.90" y="75.4" width="2.2" height="21.3" fill="#3f9a84"/>
<circle cx="79.8" cy="303.4" r="16.5" fill="#f4ad5c" fill-opacity="0.25" stroke="#efae58" stroke-width="1.8"/>
<circle cx="351.9" cy="231.3" r="18" fill="#f4ad5c" fill-opacity="0.25" stroke="#efae58" stroke-width="1.8"/>
<line x1="0" y1="232.7" x2="450" y2="232.7" stroke="#111" stroke-width="2" stroke-dasharray="2 3.2"/>
<line x1="0" y1="304.8" x2="450" y2="304.8" stroke="#111" stroke-width="2" stroke-dasharray="2 3.2"/>
<path d="M75.6,253 H84.3 V262 H87.8 L79.8,271.8 L71.8,262 H75.6 Z" fill="#c9323c"/>
<path d="M351.5,255.6 L359.2,265.3 H355.7 V273.6 H347.4 V265.3 H343.9 Z" fill="#3a9a80"/>
<text x="502" y="45.3" font-size="11.5" fill="#2b2b2b" text-anchor="end" font-weight="normal" >188.000</text>
<text x="502" y="108.1" font-size="11.5" fill="#2b2b2b" text-anchor="end" font-weight="normal" >187.000</text>
<text x="502" y="139.5" font-size="11.5" fill="#2b2b2b" text-anchor="end" font-weight="normal" >186.500</text>
<text x="502" y="170.9" font-size="11.5" fill="#2b2b2b" text-anchor="end" font-weight="normal" >186.000</text>
<text x="502" y="202.2" font-size="11.5" fill="#2b2b2b" text-anchor="end" font-weight="normal" >185.500</text>
<text x="502" y="265.0" font-size="11.5" fill="#2b2b2b" text-anchor="end" font-weight="normal" >184.500</text>
<text x="502" y="327.8" font-size="11.5" fill="#2b2b2b" text-anchor="end" font-weight="normal" >183.500</text>
<text x="502" y="359.1" font-size="11.5" fill="#2b2b2b" text-anchor="end" font-weight="normal" >183.000</text>
<text x="502" y="390.5" font-size="11.5" fill="#2b2b2b" text-anchor="end" font-weight="normal" >182.500</text>
<text x="502" y="421.9" font-size="11.5" fill="#2b2b2b" text-anchor="end" font-weight="normal" >182.000</text>
<text x="502" y="453.3" font-size="11.5" fill="#2b2b2b" text-anchor="end" font-weight="normal" >181.500</text>
<text x="502" y="484.7" font-size="11.5" fill="#2b2b2b" text-anchor="end" font-weight="normal" >181.000</text>
<text x="502" y="516.0" font-size="11.5" fill="#2b2b2b" text-anchor="end" font-weight="normal" >180.500</text>
<text x="502" y="547.4" font-size="11.5" fill="#2b2b2b" text-anchor="end" font-weight="normal" >180.000</text>
<rect x="454" y="11" width="56" height="27.7" fill="#fff"/>
<rect x="456.2" y="13.3" width="51.5" height="21" rx="4" fill="#fff" stroke="#eceef1" stroke-width="1"/>
<text x="459.3" y="28.1" font-size="11" fill="#2b2b2b" text-anchor="start" font-weight="normal" textLength="17" lengthAdjust="spacingAndGlyphs">JPY</text>
<path d="M499.3,23.2 L501.3,25.2 L503.3,23.2" fill="none" stroke="#333" stroke-width="1.2"/>
<rect x="405.3" y="66.9" width="47" height="14.2" rx="2" fill="#3f9a84"/>
<text x="428.8" y="77.9" font-size="10" fill="#f2fbf8" text-anchor="middle" font-weight="normal" >EURJPY</text>
<rect x="453.4" y="66.9" width="53.3" height="26.3" rx="2" fill="#3f9a84"/>
<text x="501.6" y="78.2" font-size="11.3" fill="#fff" text-anchor="end" font-weight="normal" >187.471</text>
<text x="461" y="90" font-size="11.3" fill="#dff2ec" text-anchor="start" font-weight="normal" >01:13</text>
<rect x="453.2" y="225.3" width="53.4" height="14.4" rx="1.5" fill="#131313"/>
<text x="502" y="236.6" font-size="11.3" fill="#fff" text-anchor="end" font-weight="normal" >184.950</text>
<rect x="453.2" y="282" width="53.4" height="14.2" rx="1.5" fill="#e0709a"/>
<text x="502" y="293.3" font-size="11.3" fill="#fff" text-anchor="end" font-weight="normal" >184.039</text>
<rect x="453.2" y="297.3" width="53.4" height="14.3" rx="1.5" fill="#131313"/>
<text x="502" y="308.6" font-size="11.3" fill="#fff" text-anchor="end" font-weight="normal" >183.800</text>
<rect x="453.2" y="313" width="53.4" height="14.2" rx="1.5" fill="#6ccde0"/>
<text x="502" y="324.2" font-size="11.3" fill="#13303a" text-anchor="end" font-weight="normal" >183.757</text>
<circle cx="16.1" cy="22.4" r="9" fill="#dcefea"/>
<circle cx="16.1" cy="22.4" r="4.6" fill="#2f6b5c"/>
<text x="7.6" y="45" font-size="12" fill="#6a9e90" text-anchor="start" font-weight="normal" >187.471</text>
<text x="57.6" y="45" font-size="12" fill="#6a9e90" text-anchor="start" font-weight="normal" >+0.778</text>
<text x="99.8" y="45" font-size="12" fill="#6a9e90" text-anchor="start" font-weight="normal" >(+0.42%)</text>
<text x="8" y="65.2" font-size="11.2" fill="#222" text-anchor="start" font-weight="normal" >SMA</text>
<text x="8" y="87.6" font-size="11.2" fill="#222" text-anchor="start" font-weight="normal" >SMA</text>
<rect x="8.5" y="98" width="27" height="21.5" rx="3" fill="#fff" stroke="#e3e5e8" stroke-width="1"/>
<path d="M17.4,110.4 L22,105.8 L26.6,110.4" fill="none" stroke="#222" stroke-width="1.7"/>
<text x="31" y="563.8" font-size="11.5" fill="#2b2b2b" text-anchor="middle" font-weight="normal" >6</text>
<text x="84.4" y="563.8" font-size="11.5" fill="#2b2b2b" text-anchor="middle" font-weight="normal" >12</text>
<text x="137.2" y="563.8" font-size="11.5" fill="#2b2b2b" text-anchor="middle" font-weight="normal" >18</text>
<text x="190.4" y="563.8" font-size="11.5" fill="#2b2b2b" text-anchor="middle" font-weight="normal" >24</text>
<text x="322.7" y="563.8" font-size="11.5" fill="#2b2b2b" text-anchor="middle" font-weight="normal" >7</text>
<text x="375.6" y="563.8" font-size="11.5" fill="#2b2b2b" text-anchor="middle" font-weight="normal" >11</text>
<text x="429" y="563.8" font-size="11.5" fill="#2b2b2b" text-anchor="middle" font-weight="normal" >17</text>
<text x="261.3" y="563.8" font-size="11.5" fill="#2b2b2b" text-anchor="start" font-weight="bold" >4</text>
<g transform="translate(269.8,563.8)"><path d="M0,-7.8 h6.2 v7.3 q0,1 -1,1 h-1.2 M0.2,-7.8 v4 q0,3 -1.6,4.3 M0.2,-5.3 h5.8 M0.2,-2.9 h5.8" fill="none" stroke="#222" stroke-width="1.3"/></g>
<path d="M10.4,521.8 H20.6 V534.3 H16 V526.4 H10.4 Z" fill="#111"/><circle cx="25.2" cy="524.1" r="2.3" fill="#111"/><path d="M30.6,521.8 H35.8 L31.2,534.3 H25.6 Z" fill="#111"/>
<circle cx="389.2" cy="535.8" r="8.3" fill="#fff" stroke="#7e4aa6" stroke-width="1.3"/>
<path d="M391.8,531 L385.7,536.4 L389,536.1 L386.2,540.5 L392.6,535 L389.3,535.3 Z" fill="#8a3fc0"/>
<line x1="0" y1="570.8" x2="512" y2="570.8" stroke="#eeeeee" stroke-width="1"/>
<text x="11.5" y="581.5" font-size="12.5" fill="#c9c9c9" text-anchor="start" font-weight="normal" >EUR JPY</text>
<text x="119" y="581.5" font-size="12.5" fill="#c9c9c9" text-anchor="start" font-weight="normal" >1H</text>
<line x1="514" y1="529.2" x2="964" y2="529.2" stroke="#f1f2f4" stroke-width="1"/>
<line x1="514" y1="499.4" x2="964" y2="499.4" stroke="#f1f2f4" stroke-width="1"/>
<line x1="514" y1="469.6" x2="964" y2="469.6" stroke="#f1f2f4" stroke-width="1"/>
<line x1="514" y1="439.9" x2="964" y2="439.9" stroke="#f1f2f4" stroke-width="1"/>
<line x1="514" y1="410.1" x2="964" y2="410.1" stroke="#f1f2f4" stroke-width="1"/>
<line x1="514" y1="380.2" x2="964" y2="380.2" stroke="#f1f2f4" stroke-width="1"/>
<line x1="514" y1="350.4" x2="964" y2="350.4" stroke="#f1f2f4" stroke-width="1"/>
<line x1="514" y1="320.6" x2="964" y2="320.6" stroke="#f1f2f4" stroke-width="1"/>
<line x1="514" y1="290.9" x2="964" y2="290.9" stroke="#f1f2f4" stroke-width="1"/>
<line x1="514" y1="261.1" x2="964" y2="261.1" stroke="#f1f2f4" stroke-width="1"/>
<line x1="514" y1="231.3" x2="964" y2="231.3" stroke="#f1f2f4" stroke-width="1"/>
<line x1="514" y1="201.5" x2="964" y2="201.5" stroke="#f1f2f4" stroke-width="1"/>
<line x1="514" y1="171.7" x2="964" y2="171.7" stroke="#f1f2f4" stroke-width="1"/>
<line x1="514" y1="141.9" x2="964" y2="141.9" stroke="#f1f2f4" stroke-width="1"/>
<line x1="514" y1="112.0" x2="964" y2="112.0" stroke="#f1f2f4" stroke-width="1"/>
<line x1="514" y1="82.2" x2="964" y2="82.2" stroke="#f1f2f4" stroke-width="1"/>
<line x1="514" y1="52.4" x2="964" y2="52.4" stroke="#f1f2f4" stroke-width="1"/>
<line x1="557.2" y1="11" x2="557.2" y2="547" stroke="#f1f2f4" stroke-width="1"/>
<line x1="615" y1="11" x2="615" y2="547" stroke="#f1f2f4" stroke-width="1"/>
<line x1="659.7" y1="11" x2="659.7" y2="547" stroke="#f1f2f4" stroke-width="1"/>
<line x1="756" y1="11" x2="756" y2="547" stroke="#f1f2f4" stroke-width="1"/>
<line x1="802" y1="11" x2="802" y2="547" stroke="#f1f2f4" stroke-width="1"/>
<line x1="856.8" y1="11" x2="856.8" y2="547" stroke="#f1f2f4" stroke-width="1"/>
<line x1="913.5" y1="11" x2="913.5" y2="547" stroke="#f1f2f4" stroke-width="1"/>
<line x1="514" y1="93.3" x2="918" y2="93.3" stroke="#9aa0a6" stroke-width="1" stroke-dasharray="1 1"/>
<path d="M514.7,378 C516.5,378.2 521.6,378.6 525.7,379.2 C529.8,379.8 534.9,380.6 539.4,381.5 C543.9,382.4 548.5,383.9 553,384.9 C557.5,385.8 562.8,386.8 566.7,387.2 C570.6,387.6 572.9,387.0 576.3,387.6 C579.7,388.2 583.6,389.7 587.2,390.8 C590.9,391.9 594.3,393.4 598.2,394.2 C602.1,394.9 606.6,395.8 610.5,395.3 C614.4,394.9 617.3,393.5 621.4,391.5 C625.5,389.5 630.0,386.1 635.1,383.3 C640.2,380.5 646.9,377.3 652,374.5 C657.1,371.7 661.3,369.8 665.9,366.7 C670.5,363.6 675.2,359.3 679.8,355.6 C684.4,351.9 689.1,347.6 693.7,344.4 C698.3,341.1 703.0,339.0 707.6,336.1 C712.2,333.2 717.2,329.7 721.4,327.1 C725.6,324.6 729.1,322.5 732.6,320.8 C736.1,319.1 739.5,317.6 742.3,316.7 C745.1,315.8 745.7,315.7 749.2,315.6 C752.7,315.6 758.5,316.1 763.1,316.4 C767.7,316.7 772.5,317.5 777,317.5 C781.5,317.5 785.8,316.7 790,316.4 C794.2,316.1 798.2,316.0 802.2,315.6 C806.2,315.2 810.2,315.0 814.3,314.3 C818.3,313.6 822.5,312.7 826.5,311.3 C830.5,309.9 834.6,307.8 838.6,305.8 C842.6,303.8 846.8,301.4 850.8,299.2 C854.8,297.0 858.9,294.6 862.9,292.5 C866.9,290.4 871.4,288.1 875,286.4 C878.6,284.7 883.2,282.9 884.8,282.2" fill="none" stroke="#d98a9c" stroke-width="1.1"/>
<path d="M514.7,417.5 C518.8,416.0 530.7,412.0 539.4,408.6 C548.1,405.2 557.6,400.4 566.7,396.9 C575.8,393.4 584.9,390.3 594,387.4 C603.1,384.4 611.7,382.1 621.4,379.2 C631.1,376.3 644.6,372.5 652,370.2 C659.4,367.9 661.3,367.1 665.9,365.3 C670.5,363.6 675.2,361.4 679.8,359.7 C684.4,358.0 689.1,356.4 693.7,354.9 C698.3,353.4 703.0,351.9 707.6,350.7 C712.2,349.5 716.8,348.8 721.4,347.9 C726.0,347.0 730.7,345.8 735.3,345.1 C739.9,344.4 744.6,344.2 749.2,343.75 C753.8,343.3 758.5,343.0 763.1,342.4 C767.7,341.8 771.9,341.0 777,340 C782.1,339.0 787.4,337.8 793.6,336.6 C799.8,335.4 806.8,333.8 814.3,332.6 C821.8,331.4 830.5,330.5 838.6,329.5 C846.7,328.5 855.2,327.8 862.9,326.5 C870.6,325.2 881.1,322.4 884.8,321.6" fill="none" stroke="#93d0dc" stroke-width="1.1"/>
<rect x="515.00" y="319" width="1.0" height="24" fill="#3f9a84"/>
<rect x="514.40" y="321.9" width="2.2" height="18.2" fill="#3f9a84"/>
<rect x="516.50" y="343" width="1.0" height="31" fill="#3f9a84"/>
<rect x="515.90" y="343.0" width="2.2" height="25.0" fill="#3f9a84"/>
<rect x="518.10" y="345" width="1.0" height="23" fill="#3f9a84"/>
<rect x="517.50" y="347.8" width="2.2" height="17.5" fill="#3f9a84"/>
<rect x="519.70" y="334" width="1.0" height="18" fill="#3f9a84"/>
<rect x="519.10" y="336.2" width="2.2" height="13.7" fill="#3f9a84"/>
<rect x="521.30" y="330" width="1.0" height="20" fill="#3f9a84"/>
<rect x="520.70" y="332.4" width="2.2" height="15.2" fill="#3f9a84"/>
<rect x="522.90" y="321" width="1.0" height="26" fill="#3f9a84"/>
<rect x="522.30" y="324.1" width="2.2" height="19.8" fill="#3f9a84"/>
<rect x="524.50" y="305" width="1.0" height="29" fill="#3f9a84"/>
<rect x="523.90" y="308.5" width="2.2" height="22.0" fill="#3f9a84"/>
<rect x="526.50" y="303" width="1.0" height="18" fill="#3f9a84"/>
<rect x="525.90" y="305.2" width="2.2" height="13.7" fill="#3f9a84"/>
<rect x="528.40" y="282" width="1.0" height="27" fill="#3f9a84"/>
<rect x="527.80" y="290.0" width="2.2" height="16.0" fill="#3f9a84"/>
<rect x="530.30" y="299" width="1.0" height="9" fill="#d0505b"/>
<rect x="529.70" y="300.1" width="2.2" height="6.8" fill="#d0505b"/>
<rect x="532.10" y="299" width="1.0" height="11" fill="#d0505b"/>
<rect x="531.50" y="300.3" width="2.2" height="8.4" fill="#d0505b"/>
<rect x="534.00" y="292" width="1.0" height="24" fill="#3f9a84"/>
<rect x="533.40" y="294.9" width="2.2" height="18.2" fill="#3f9a84"/>
<rect x="535.80" y="280" width="1.0" height="25" fill="#3f9a84"/>
<rect x="535.20" y="283.0" width="2.2" height="19.0" fill="#3f9a84"/>
<rect x="537.70" y="274" width="1.0" height="18" fill="#3f9a84"/>
<rect x="537.10" y="276.2" width="2.2" height="13.7" fill="#3f9a84"/>
<rect x="539.60" y="272" width="1.0" height="14" fill="#d0505b"/>
<rect x="539.00" y="273.7" width="2.2" height="10.6" fill="#d0505b"/>
<rect x="541.50" y="266" width="1.0" height="24" fill="#3f9a84"/>
<rect x="540.90" y="268.9" width="2.2" height="18.2" fill="#3f9a84"/>
<rect x="543.50" y="279" width="1.0" height="13" fill="#d0505b"/>
<rect x="542.90" y="280.6" width="2.2" height="9.9" fill="#d0505b"/>
<rect x="545.80" y="261" width="1.0" height="31" fill="#3f9a84"/>
<rect x="545.20" y="264.7" width="2.2" height="23.6" fill="#3f9a84"/>
<rect x="548.10" y="246" width="1.0" height="17" fill="#3f9a84"/>
<rect x="547.50" y="248.0" width="2.2" height="12.9" fill="#3f9a84"/>
<rect x="550.20" y="250" width="1.0" height="11" fill="#d0505b"/>
<rect x="549.60" y="251.3" width="2.2" height="8.4" fill="#d0505b"/>
<rect x="552.30" y="248" width="1.0" height="15" fill="#d0505b"/>
<rect x="551.70" y="249.8" width="2.2" height="11.4" fill="#d0505b"/>
<rect x="554.70" y="228" width="1.0" height="35" fill="#3f9a84"/>
<rect x="554.10" y="232.2" width="2.2" height="26.6" fill="#3f9a84"/>
<rect x="556.90" y="212" width="1.0" height="20" fill="#3f9a84"/>
<rect x="556.30" y="218.0" width="2.2" height="14.0" fill="#3f9a84"/>
<rect x="559.00" y="216" width="1.0" height="18" fill="#3f9a84"/>
<rect x="558.40" y="218.2" width="2.2" height="13.7" fill="#3f9a84"/>
<rect x="561.30" y="223" width="1.0" height="34" fill="#d0505b"/>
<rect x="560.70" y="227.1" width="2.2" height="25.8" fill="#d0505b"/>
<rect x="563.50" y="246" width="1.0" height="8" fill="#d0505b"/>
<rect x="562.90" y="247.0" width="2.2" height="6.1" fill="#d0505b"/>
<rect x="565.90" y="248" width="1.0" height="15" fill="#3f9a84"/>
<rect x="565.30" y="249.8" width="2.2" height="11.4" fill="#3f9a84"/>
<rect x="568.20" y="254" width="1.0" height="13" fill="#d0505b"/>
<rect x="567.60" y="255.6" width="2.2" height="9.9" fill="#d0505b"/>
<rect x="570.50" y="250" width="1.0" height="9" fill="#3f9a84"/>
<rect x="569.90" y="251.1" width="2.2" height="6.8" fill="#3f9a84"/>
<rect x="573.00" y="248" width="1.0" height="18" fill="#3f9a84"/>
<rect x="572.40" y="250.2" width="2.2" height="13.7" fill="#3f9a84"/>
<rect x="575.10" y="239" width="1.0" height="20" fill="#3f9a84"/>
<rect x="574.50" y="241.4" width="2.2" height="15.2" fill="#3f9a84"/>
<rect x="578.50" y="241" width="1.0" height="93" fill="#d0505b"/>
<rect x="577.90" y="254.0" width="2.2" height="79.0" fill="#d0505b"/>
<rect x="580.70" y="315" width="1.0" height="40" fill="#d0505b"/>
<rect x="580.10" y="324.0" width="2.2" height="9.0" fill="#d0505b"/>
<rect x="582.90" y="322" width="1.0" height="23" fill="#d0505b"/>
<rect x="582.30" y="324.0" width="2.2" height="14.0" fill="#d0505b"/>
<rect x="584.70" y="320" width="1.0" height="26" fill="#3f9a84"/>
<rect x="584.10" y="324.0" width="2.2" height="14.0" fill="#3f9a84"/>
<rect x="586.70" y="320" width="1.0" height="35" fill="#d0505b"/>
<rect x="586.10" y="329.0" width="2.2" height="17.0" fill="#d0505b"/>
<rect x="589.30" y="316" width="1.0" height="29" fill="#3f9a84"/>
<rect x="588.70" y="318.0" width="2.2" height="22.0" fill="#3f9a84"/>
<rect x="591.90" y="322" width="1.0" height="40" fill="#d0505b"/>
<rect x="591.30" y="324.0" width="2.2" height="16.0" fill="#d0505b"/>
<rect x="594.10" y="326" width="1.0" height="26" fill="#d0505b"/>
<rect x="593.50" y="329.0" width="2.2" height="13.0" fill="#d0505b"/>
<rect x="596.90" y="296" width="1.0" height="40" fill="#3f9a84"/>
<rect x="596.30" y="298.0" width="2.2" height="35.0" fill="#3f9a84"/>
<rect x="599.40" y="284" width="1.0" height="24" fill="#d0505b"/>
<rect x="598.80" y="300.0" width="2.2" height="6.0" fill="#d0505b"/>
<rect x="601.40" y="286" width="1.0" height="16" fill="#3f9a84"/>
<rect x="600.80" y="290.0" width="2.2" height="10.0" fill="#3f9a84"/>
<rect x="603.80" y="287" width="1.0" height="26" fill="#3f9a84"/>
<rect x="603.20" y="289.0" width="2.2" height="11.0" fill="#3f9a84"/>
<rect x="606.80" y="282" width="1.0" height="18" fill="#d0505b"/>
<rect x="606.20" y="286.0" width="2.2" height="7.0" fill="#d0505b"/>
<rect x="609.30" y="275" width="1.0" height="21" fill="#3f9a84"/>
<rect x="608.70" y="282.0" width="2.2" height="11.0" fill="#3f9a84"/>
<rect x="612.40" y="272" width="1.0" height="14" fill="#3f9a84"/>
<rect x="611.80" y="273.0" width="2.2" height="11.0" fill="#3f9a84"/>
<rect x="615.40" y="261" width="1.0" height="16" fill="#3f9a84"/>
<rect x="614.80" y="262.0" width="2.2" height="13.0" fill="#3f9a84"/>
<rect x="618.10" y="264" width="1.0" height="29" fill="#d0505b"/>
<rect x="617.50" y="266.0" width="2.2" height="14.0" fill="#d0505b"/>
<rect x="621.30" y="268" width="1.0" height="17" fill="#d0505b"/>
<rect x="620.70" y="270.0" width="2.2" height="10.0" fill="#d0505b"/>
<rect x="624.30" y="252" width="1.0" height="30" fill="#3f9a84"/>
<rect x="623.70" y="253.0" width="2.2" height="27.0" fill="#3f9a84"/>
<rect x="627.10" y="250" width="1.0" height="48" fill="#d0505b"/>
<rect x="626.50" y="251.0" width="2.2" height="41.0" fill="#d0505b"/>
<rect x="629.80" y="260" width="1.0" height="44" fill="#d0505b"/>
<rect x="629.20" y="276.0" width="2.2" height="22.0" fill="#d0505b"/>
<rect x="632.30" y="265" width="1.0" height="35" fill="#3f9a84"/>
<rect x="631.70" y="272.0" width="2.2" height="23.0" fill="#3f9a84"/>
<rect x="634.90" y="292" width="1.0" height="66" fill="#d0505b"/>
<rect x="634.30" y="292.0" width="2.2" height="62.0" fill="#d0505b"/>
<rect x="637.00" y="310" width="1.0" height="44" fill="#d0505b"/>
<rect x="636.40" y="315.3" width="2.2" height="33.4" fill="#d0505b"/>
<rect x="639.10" y="298" width="1.0" height="64" fill="#d0505b"/>
<rect x="638.50" y="300.0" width="2.2" height="54.0" fill="#d0505b"/>
<rect x="641.20" y="298" width="1.0" height="35" fill="#3f9a84"/>
<rect x="640.60" y="302.2" width="2.2" height="26.6" fill="#3f9a84"/>
<rect x="643.30" y="305" width="1.0" height="25" fill="#3f9a84"/>
<rect x="642.70" y="308.0" width="2.2" height="19.0" fill="#3f9a84"/>
<rect x="645.30" y="292" width="1.0" height="23" fill="#3f9a84"/>
<rect x="644.70" y="294.8" width="2.2" height="17.5" fill="#3f9a84"/>
<rect x="647.40" y="275" width="1.0" height="23" fill="#3f9a84"/>
<rect x="646.80" y="277.8" width="2.2" height="17.5" fill="#3f9a84"/>
<rect x="649.50" y="254" width="1.0" height="23" fill="#3f9a84"/>
<rect x="648.90" y="256.8" width="2.2" height="17.5" fill="#3f9a84"/>
<rect x="651.50" y="252" width="1.0" height="25" fill="#d0505b"/>
<rect x="650.90" y="255.0" width="2.2" height="19.0" fill="#d0505b"/>
<rect x="653.50" y="258" width="1.0" height="54" fill="#d0505b"/>
<rect x="652.90" y="262.0" width="2.2" height="28.0" fill="#d0505b"/>
<rect x="656.10" y="258" width="1.0" height="24" fill="#3f9a84"/>
<rect x="655.50" y="260.9" width="2.2" height="18.2" fill="#3f9a84"/>
<rect x="658.30" y="264" width="1.0" height="16" fill="#3f9a84"/>
<rect x="657.70" y="265.9" width="2.2" height="12.2" fill="#3f9a84"/>
<rect x="660.50" y="262" width="1.0" height="34" fill="#d0505b"/>
<rect x="659.90" y="266.1" width="2.2" height="25.8" fill="#d0505b"/>
<rect x="662.70" y="249" width="1.0" height="51" fill="#d0505b"/>
<rect x="662.10" y="255.1" width="2.2" height="38.8" fill="#d0505b"/>
<rect x="665.10" y="253" width="1.0" height="20" fill="#3f9a84"/>
<rect x="664.50" y="255.4" width="2.2" height="15.2" fill="#3f9a84"/>
<rect x="667.40" y="236" width="1.0" height="80" fill="#3f9a84"/>
<rect x="666.80" y="238.0" width="2.2" height="24.0" fill="#3f9a84"/>
<rect x="669.50" y="216" width="1.0" height="40" fill="#d0505b"/>
<rect x="668.90" y="236.0" width="2.2" height="20.0" fill="#d0505b"/>
<rect x="671.70" y="244" width="1.0" height="18" fill="#d0505b"/>
<rect x="671.10" y="246.2" width="2.2" height="13.7" fill="#d0505b"/>
<rect x="674.10" y="253" width="1.0" height="11" fill="#d0505b"/>
<rect x="673.50" y="254.3" width="2.2" height="8.4" fill="#d0505b"/>
<rect x="676.40" y="249" width="1.0" height="20" fill="#3f9a84"/>
<rect x="675.80" y="251.4" width="2.2" height="15.2" fill="#3f9a84"/>
<rect x="678.50" y="233" width="1.0" height="43" fill="#d0505b"/>
<rect x="677.90" y="240.0" width="2.2" height="28.0" fill="#d0505b"/>
<rect x="680.70" y="247" width="1.0" height="20" fill="#3f9a84"/>
<rect x="680.10" y="249.4" width="2.2" height="15.2" fill="#3f9a84"/>
<rect x="682.90" y="238" width="1.0" height="29" fill="#3f9a84"/>
<rect x="682.30" y="241.5" width="2.2" height="22.0" fill="#3f9a84"/>
<rect x="685.10" y="238" width="1.0" height="24" fill="#3f9a84"/>
<rect x="684.50" y="240.9" width="2.2" height="18.2" fill="#3f9a84"/>
<rect x="687.30" y="220" width="1.0" height="31" fill="#3f9a84"/>
<rect x="686.70" y="226.0" width="2.2" height="25.0" fill="#3f9a84"/>
<rect x="689.40" y="224" width="1.0" height="23" fill="#d0505b"/>
<rect x="688.80" y="226.8" width="2.2" height="17.5" fill="#d0505b"/>
<rect x="691.60" y="229" width="1.0" height="15" fill="#3f9a84"/>
<rect x="691.00" y="230.8" width="2.2" height="11.4" fill="#3f9a84"/>
<rect x="694.00" y="220" width="1.0" height="22" fill="#3f9a84"/>
<rect x="693.40" y="222.6" width="2.2" height="16.7" fill="#3f9a84"/>
<rect x="696.30" y="227" width="1.0" height="9" fill="#3f9a84"/>
<rect x="695.70" y="228.1" width="2.2" height="6.8" fill="#3f9a84"/>
<rect x="698.50" y="220" width="1.0" height="11" fill="#d0505b"/>
<rect x="697.90" y="221.3" width="2.2" height="8.4" fill="#d0505b"/>
<rect x="700.70" y="227" width="1.0" height="6" fill="#d0505b"/>
<rect x="700.10" y="227.7" width="2.2" height="4.6" fill="#d0505b"/>
<rect x="702.90" y="224" width="1.0" height="12" fill="#3f9a84"/>
<rect x="702.30" y="225.4" width="2.2" height="9.1" fill="#3f9a84"/>
<rect x="705.10" y="227" width="1.0" height="9" fill="#3f9a84"/>
<rect x="704.50" y="228.1" width="2.2" height="6.8" fill="#3f9a84"/>
<rect x="707.30" y="227" width="1.0" height="17" fill="#d0505b"/>
<rect x="706.70" y="229.0" width="2.2" height="12.9" fill="#d0505b"/>
<rect x="709.50" y="233" width="1.0" height="9" fill="#d0505b"/>
<rect x="708.90" y="234.1" width="2.2" height="6.8" fill="#d0505b"/>
<rect x="711.70" y="213" width="1.0" height="31" fill="#3f9a84"/>
<rect x="711.10" y="227.0" width="2.2" height="13.0" fill="#3f9a84"/>
<rect x="714.00" y="233" width="1.0" height="11" fill="#d0505b"/>
<rect x="713.40" y="234.3" width="2.2" height="8.4" fill="#d0505b"/>
<rect x="716.30" y="233" width="1.0" height="20" fill="#d0505b"/>
<rect x="715.70" y="235.4" width="2.2" height="15.2" fill="#d0505b"/>
<rect x="718.50" y="233" width="1.0" height="11" fill="#3f9a84"/>
<rect x="717.90" y="234.3" width="2.2" height="8.4" fill="#3f9a84"/>
<rect x="720.70" y="227" width="1.0" height="24" fill="#d0505b"/>
<rect x="720.10" y="229.9" width="2.2" height="18.2" fill="#d0505b"/>
<rect x="722.90" y="242" width="1.0" height="29" fill="#d0505b"/>
<rect x="722.30" y="245.5" width="2.2" height="22.0" fill="#d0505b"/>
<rect x="725.10" y="233" width="1.0" height="45" fill="#d0505b"/>
<rect x="724.50" y="238.4" width="2.2" height="34.2" fill="#d0505b"/>
<rect x="727.30" y="253" width="1.0" height="18" fill="#d0505b"/>
<rect x="726.70" y="255.2" width="2.2" height="13.7" fill="#d0505b"/>
<rect x="729.50" y="256" width="1.0" height="13" fill="#d0505b"/>
<rect x="728.90" y="257.6" width="2.2" height="9.9" fill="#d0505b"/>
<rect x="731.80" y="258" width="1.0" height="42" fill="#d0505b"/>
<rect x="731.20" y="263.0" width="2.2" height="31.9" fill="#d0505b"/>
<rect x="734.10" y="284" width="1.0" height="49" fill="#d0505b"/>
<rect x="733.50" y="289.9" width="2.2" height="37.2" fill="#d0505b"/>
<rect x="736.50" y="329" width="1.0" height="33" fill="#d0505b"/>
<rect x="735.90" y="333.0" width="2.2" height="25.1" fill="#d0505b"/>
<rect x="739.20" y="358" width="1.0" height="40" fill="#d0505b"/>
<rect x="738.60" y="362.8" width="2.2" height="30.4" fill="#d0505b"/>
<rect x="741.40" y="380" width="1.0" height="11" fill="#3f9a84"/>
<rect x="740.80" y="381.3" width="2.2" height="8.4" fill="#3f9a84"/>
<rect x="743.50" y="349" width="1.0" height="35" fill="#3f9a84"/>
<rect x="742.90" y="353.2" width="2.2" height="26.6" fill="#3f9a84"/>
<rect x="746.00" y="338" width="1.0" height="35" fill="#d0505b"/>
<rect x="745.40" y="342.2" width="2.2" height="26.6" fill="#d0505b"/>
<rect x="748.30" y="353" width="1.0" height="34" fill="#d0505b"/>
<rect x="747.70" y="357.1" width="2.2" height="25.8" fill="#d0505b"/>
<rect x="750.50" y="340" width="1.0" height="47" fill="#3f9a84"/>
<rect x="749.90" y="345.0" width="2.2" height="32.0" fill="#3f9a84"/>
<rect x="752.70" y="353" width="1.0" height="54" fill="#d0505b"/>
<rect x="752.10" y="359.5" width="2.2" height="41.0" fill="#d0505b"/>
<rect x="755.00" y="382" width="1.0" height="51" fill="#d0505b"/>
<rect x="754.40" y="384.0" width="2.2" height="41.0" fill="#d0505b"/>
<rect x="757.30" y="393" width="1.0" height="25" fill="#d0505b"/>
<rect x="756.70" y="396.0" width="2.2" height="19.0" fill="#d0505b"/>
<rect x="759.50" y="391" width="1.0" height="38" fill="#3f9a84"/>
<rect x="758.90" y="395.6" width="2.2" height="28.9" fill="#3f9a84"/>
<rect x="761.70" y="391" width="1.0" height="27" fill="#d0505b"/>
<rect x="761.10" y="394.2" width="2.2" height="20.5" fill="#d0505b"/>
<rect x="763.90" y="371" width="1.0" height="29" fill="#3f9a84"/>
<rect x="763.30" y="374.5" width="2.2" height="22.0" fill="#3f9a84"/>
<rect x="766.10" y="360" width="1.0" height="18" fill="#3f9a84"/>
<rect x="765.50" y="362.2" width="2.2" height="13.7" fill="#3f9a84"/>
<rect x="768.40" y="327" width="1.0" height="37" fill="#3f9a84"/>
<rect x="767.80" y="331.4" width="2.2" height="28.1" fill="#3f9a84"/>
<rect x="770.50" y="324" width="1.0" height="18" fill="#d0505b"/>
<rect x="769.90" y="326.2" width="2.2" height="13.7" fill="#d0505b"/>
<rect x="772.70" y="333" width="1.0" height="18" fill="#d0505b"/>
<rect x="772.10" y="335.2" width="2.2" height="13.7" fill="#d0505b"/>
<rect x="775.00" y="336" width="1.0" height="28" fill="#d0505b"/>
<rect x="774.40" y="339.4" width="2.2" height="21.3" fill="#d0505b"/>
<rect x="777.30" y="349" width="1.0" height="42" fill="#d0505b"/>
<rect x="776.70" y="352.0" width="2.2" height="28.0" fill="#d0505b"/>
<rect x="779.50" y="353" width="1.0" height="29" fill="#3f9a84"/>
<rect x="778.90" y="356.5" width="2.2" height="22.0" fill="#3f9a84"/>
<rect x="782.00" y="347" width="1.0" height="35" fill="#3f9a84"/>
<rect x="781.40" y="351.2" width="2.2" height="26.6" fill="#3f9a84"/>
<rect x="784.40" y="340" width="1.0" height="18" fill="#3f9a84"/>
<rect x="783.80" y="342.2" width="2.2" height="13.7" fill="#3f9a84"/>
<rect x="786.50" y="338" width="1.0" height="22" fill="#3f9a84"/>
<rect x="785.90" y="340.6" width="2.2" height="16.7" fill="#3f9a84"/>
<rect x="788.70" y="339" width="1.0" height="11" fill="#d0505b"/>
<rect x="788.10" y="340.3" width="2.2" height="8.4" fill="#d0505b"/>
<rect x="791.00" y="333" width="1.0" height="17" fill="#3f9a84"/>
<rect x="790.40" y="335.0" width="2.2" height="12.9" fill="#3f9a84"/>
<rect x="793.40" y="334" width="1.0" height="29" fill="#d0505b"/>
<rect x="792.80" y="337.5" width="2.2" height="22.0" fill="#d0505b"/>
<rect x="795.50" y="348" width="1.0" height="24" fill="#d0505b"/>
<rect x="794.90" y="350.9" width="2.2" height="18.2" fill="#d0505b"/>
<rect x="797.70" y="359" width="1.0" height="20" fill="#d0505b"/>
<rect x="797.10" y="361.4" width="2.2" height="15.2" fill="#d0505b"/>
<rect x="800.00" y="368" width="1.0" height="24" fill="#d0505b"/>
<rect x="799.40" y="370.9" width="2.2" height="18.2" fill="#d0505b"/>
<rect x="802.30" y="361" width="1.0" height="13" fill="#3f9a84"/>
<rect x="801.70" y="362.6" width="2.2" height="9.9" fill="#3f9a84"/>
<rect x="804.50" y="341" width="1.0" height="20" fill="#3f9a84"/>
<rect x="803.90" y="343.4" width="2.2" height="15.2" fill="#3f9a84"/>
<rect x="806.60" y="328" width="1.0" height="15" fill="#3f9a84"/>
<rect x="806.00" y="329.8" width="2.2" height="11.4" fill="#3f9a84"/>
<rect x="808.90" y="337" width="1.0" height="6" fill="#d0505b"/>
<rect x="808.30" y="337.7" width="2.2" height="4.6" fill="#d0505b"/>
<rect x="811.20" y="319" width="1.0" height="24" fill="#3f9a84"/>
<rect x="810.60" y="321.9" width="2.2" height="18.2" fill="#3f9a84"/>
<rect x="813.40" y="325" width="1.0" height="14" fill="#d0505b"/>
<rect x="812.80" y="326.7" width="2.2" height="10.6" fill="#d0505b"/>
<rect x="815.50" y="321" width="1.0" height="16" fill="#3f9a84"/>
<rect x="814.90" y="322.9" width="2.2" height="12.2" fill="#3f9a84"/>
<rect x="817.80" y="323" width="1.0" height="14" fill="#d0505b"/>
<rect x="817.20" y="324.7" width="2.2" height="10.6" fill="#d0505b"/>
<rect x="820.10" y="299" width="1.0" height="35" fill="#3f9a84"/>
<rect x="819.50" y="303.2" width="2.2" height="26.6" fill="#3f9a84"/>
<rect x="822.30" y="299" width="1.0" height="15" fill="#d0505b"/>
<rect x="821.70" y="300.8" width="2.2" height="11.4" fill="#d0505b"/>
<rect x="824.50" y="299" width="1.0" height="18" fill="#d0505b"/>
<rect x="823.90" y="301.2" width="2.2" height="13.7" fill="#d0505b"/>
<rect x="826.70" y="281" width="1.0" height="18" fill="#3f9a84"/>
<rect x="826.10" y="283.2" width="2.2" height="13.7" fill="#3f9a84"/>
<rect x="829.00" y="263" width="1.0" height="31" fill="#3f9a84"/>
<rect x="828.40" y="266.7" width="2.2" height="23.6" fill="#3f9a84"/>
<rect x="831.30" y="254" width="1.0" height="27" fill="#3f9a84"/>
<rect x="830.70" y="257.2" width="2.2" height="20.5" fill="#3f9a84"/>
<rect x="833.50" y="246" width="1.0" height="22" fill="#3f9a84"/>
<rect x="832.90" y="248.6" width="2.2" height="16.7" fill="#3f9a84"/>
<rect x="835.50" y="252" width="1.0" height="11" fill="#3f9a84"/>
<rect x="834.90" y="253.3" width="2.2" height="8.4" fill="#3f9a84"/>
<rect x="837.60" y="223" width="1.0" height="34" fill="#3f9a84"/>
<rect x="837.00" y="227.1" width="2.2" height="25.8" fill="#3f9a84"/>
<rect x="839.90" y="232" width="1.0" height="20" fill="#d0505b"/>
<rect x="839.30" y="234.4" width="2.2" height="15.2" fill="#d0505b"/>
<rect x="842.20" y="246" width="1.0" height="24" fill="#d0505b"/>
<rect x="841.60" y="248.9" width="2.2" height="18.2" fill="#d0505b"/>
<rect x="844.50" y="250" width="1.0" height="22" fill="#d0505b"/>
<rect x="843.90" y="252.6" width="2.2" height="16.7" fill="#d0505b"/>
<rect x="846.60" y="246" width="1.0" height="13" fill="#d0505b"/>
<rect x="846.00" y="247.6" width="2.2" height="9.9" fill="#d0505b"/>
<rect x="848.90" y="223" width="1.0" height="31" fill="#3f9a84"/>
<rect x="848.30" y="226.7" width="2.2" height="23.6" fill="#3f9a84"/>
<rect x="851.20" y="208" width="1.0" height="20" fill="#3f9a84"/>
<rect x="850.60" y="210.4" width="2.2" height="15.2" fill="#3f9a84"/>
<rect x="853.30" y="183" width="1.0" height="29" fill="#3f9a84"/>
<rect x="852.70" y="186.5" width="2.2" height="22.0" fill="#3f9a84"/>
<rect x="855.50" y="180" width="1.0" height="26" fill="#3f9a84"/>
<rect x="854.90" y="183.1" width="2.2" height="19.8" fill="#3f9a84"/>
<rect x="857.60" y="186" width="1.0" height="18" fill="#3f9a84"/>
<rect x="857.00" y="188.2" width="2.2" height="13.7" fill="#3f9a84"/>
<rect x="859.70" y="187" width="1.0" height="12" fill="#d0505b"/>
<rect x="859.10" y="188.4" width="2.2" height="9.1" fill="#d0505b"/>
<rect x="861.80" y="182" width="1.0" height="12" fill="#3f9a84"/>
<rect x="861.20" y="183.4" width="2.2" height="9.1" fill="#3f9a84"/>
<rect x="864.00" y="160" width="1.0" height="27" fill="#3f9a84"/>
<rect x="863.40" y="163.2" width="2.2" height="20.5" fill="#3f9a84"/>
<rect x="866.20" y="151" width="1.0" height="11" fill="#3f9a84"/>
<rect x="865.60" y="152.3" width="2.2" height="8.4" fill="#3f9a84"/>
<rect x="868.40" y="138" width="1.0" height="22" fill="#3f9a84"/>
<rect x="867.80" y="144.0" width="2.2" height="16.0" fill="#3f9a84"/>
<rect x="870.20" y="147" width="1.0" height="9" fill="#3f9a84"/>
<rect x="869.60" y="148.1" width="2.2" height="6.8" fill="#3f9a84"/>
<rect x="871.90" y="169" width="1.0" height="28" fill="#3f9a84"/>
<rect x="871.30" y="172.4" width="2.2" height="21.3" fill="#3f9a84"/>
<rect x="874.10" y="162" width="1.0" height="11" fill="#3f9a84"/>
<rect x="873.50" y="163.3" width="2.2" height="8.4" fill="#3f9a84"/>
<rect x="876.30" y="144" width="1.0" height="23" fill="#3f9a84"/>
<rect x="875.70" y="146.8" width="2.2" height="17.5" fill="#3f9a84"/>
<rect x="878.50" y="133" width="1.0" height="14" fill="#3f9a84"/>
<rect x="877.90" y="134.7" width="2.2" height="10.6" fill="#3f9a84"/>
<rect x="880.50" y="116" width="1.0" height="22" fill="#3f9a84"/>
<rect x="879.90" y="118.6" width="2.2" height="16.7" fill="#3f9a84"/>
<rect x="882.50" y="111" width="1.0" height="7" fill="#3f9a84"/>
<rect x="881.90" y="111.8" width="2.2" height="5.3" fill="#3f9a84"/>
<rect x="884.70" y="91" width="1.0" height="25" fill="#3f9a84"/>
<rect x="884.10" y="94.0" width="2.2" height="19.0" fill="#3f9a84"/>
<circle cx="555.8" cy="242.3" r="16.8" fill="#f4ad5c" fill-opacity="0.25" stroke="#efae58" stroke-width="1.8"/>
<circle cx="686.7" cy="253" r="15.4" fill="#f4ad5c" fill-opacity="0.25" stroke="#efae58" stroke-width="1.8"/>
<line x1="514" y1="242.8" x2="963" y2="242.8" stroke="#111" stroke-width="2" stroke-dasharray="2 3.2"/>
<line x1="514" y1="255.4" x2="963" y2="255.4" stroke="#111" stroke-width="2" stroke-dasharray="2 3.2"/>
<path d="M553.4,193.6 H562.4 V202 H565.9 L557.9,211.7 L549.9,202 H553.4 Z" fill="#c9323c"/>
<path d="M688.3,273.5 L695.9,283.2 H692.4 V291.5 H684 V283.2 H680.6 Z" fill="#3a9a80"/>
<text x="1014.6" y="57.2" font-size="11.5" fill="#2b2b2b" text-anchor="end" font-weight="normal" >216.000</text>
<text x="1014.6" y="87.0" font-size="11.5" fill="#2b2b2b" text-anchor="end" font-weight="normal" >215.500</text>
<text x="1014.6" y="116.8" font-size="11.5" fill="#2b2b2b" text-anchor="end" font-weight="normal" >215.000</text>
<text x="1014.6" y="146.7" font-size="11.5" fill="#2b2b2b" text-anchor="end" font-weight="normal" >214.500</text>
<text x="1014.6" y="176.4" font-size="11.5" fill="#2b2b2b" text-anchor="end" font-weight="normal" >214.000</text>
<text x="1014.6" y="206.2" font-size="11.5" fill="#2b2b2b" text-anchor="end" font-weight="normal" >213.500</text>
<text x="1014.6" y="236.1" font-size="11.5" fill="#2b2b2b" text-anchor="end" font-weight="normal" >213.000</text>
<text x="1014.6" y="295.7" font-size="11.5" fill="#2b2b2b" text-anchor="end" font-weight="normal" >212.000</text>
<text x="1014.6" y="355.2" font-size="11.5" fill="#2b2b2b" text-anchor="end" font-weight="normal" >211.000</text>
<text x="1014.6" y="385.1" font-size="11.5" fill="#2b2b2b" text-anchor="end" font-weight="normal" >210.500</text>
<text x="1014.6" y="414.9" font-size="11.5" fill="#2b2b2b" text-anchor="end" font-weight="normal" >210.000</text>
<text x="1014.6" y="444.7" font-size="11.5" fill="#2b2b2b" text-anchor="end" font-weight="normal" >209.500</text>
<text x="1014.6" y="474.4" font-size="11.5" fill="#2b2b2b" text-anchor="end" font-weight="normal" >209.000</text>
<text x="1014.6" y="504.2" font-size="11.5" fill="#2b2b2b" text-anchor="end" font-weight="normal" >208.500</text>
<text x="1014.6" y="534.1" font-size="11.5" fill="#2b2b2b" text-anchor="end" font-weight="normal" >208.000</text>
<rect x="967" y="11" width="54" height="27.7" fill="#fff"/>
<rect x="968.9" y="13.3" width="51" height="21" rx="4" fill="#fff" stroke="#eceef1" stroke-width="1"/>
<text x="972" y="28.1" font-size="11" fill="#2b2b2b" text-anchor="start" font-weight="normal" textLength="17" lengthAdjust="spacingAndGlyphs">JPY</text>
<path d="M1011.5,23.2 L1013.5,25.2 L1015.5,23.2" fill="none" stroke="#333" stroke-width="1.2"/>
<rect x="918" y="86.5" width="47" height="13.8" rx="2" fill="#3f9a84"/>
<text x="941.4" y="97.4" font-size="10" fill="#f2fbf8" text-anchor="middle" font-weight="normal" >GBPJPY</text>
<rect x="965.7" y="86.5" width="53.5" height="26" rx="2" fill="#3f9a84"/>
<text x="1014.4" y="97.9" font-size="11.3" fill="#fff" text-anchor="end" font-weight="normal" >215.327</text>
<text x="973.6" y="110.1" font-size="11.3" fill="#dff2ec" text-anchor="start" font-weight="normal" >01:13</text>
<rect x="966.4" y="236" width="53.4" height="29" rx="1.5" fill="#131313"/>
<text x="1014.6" y="247.4" font-size="11.3" fill="#fff" text-anchor="end" font-weight="normal" >212.810</text>
<text x="1014.6" y="262.4" font-size="11.3" fill="#fff" text-anchor="end" font-weight="normal" >212.600</text>
<rect x="966.4" y="275" width="53.4" height="14" rx="1.5" fill="#e0709a"/>
<text x="1014.6" y="286.2" font-size="11.3" fill="#fff" text-anchor="end" font-weight="normal" >212.155</text>
<rect x="966.4" y="314.3" width="53.4" height="14.7" rx="1.5" fill="#6ccde0"/>
<text x="1014.6" y="325.8" font-size="11.3" fill="#13303a" text-anchor="end" font-weight="normal" >211.491</text>
<circle cx="529.4" cy="22.3" r="9" fill="#dcefea"/>
<circle cx="529.4" cy="22.3" r="4.6" fill="#2f6b5c"/>
<text x="520.2" y="45" font-size="12" fill="#6a9e90" text-anchor="start" font-weight="normal" >215.327</text>
<text x="569.8" y="45" font-size="12" fill="#6a9e90" text-anchor="start" font-weight="normal" >+0.992</text>
<text x="612.6" y="45" font-size="12" fill="#6a9e90" text-anchor="start" font-weight="normal" >(+0.46%)</text>
<text x="520.6" y="65.3" font-size="11.2" fill="#222" text-anchor="start" font-weight="normal" >SMA</text>
<text x="520.6" y="87.9" font-size="11.2" fill="#222" text-anchor="start" font-weight="normal" >SMA</text>
<rect x="521.5" y="98" width="26.5" height="21" rx="3" fill="#fff" stroke="#e3e5e8" stroke-width="1"/>
<path d="M530.2,110.4 L534.8,105.8 L539.4,110.4" fill="none" stroke="#222" stroke-width="1.7"/>
<text x="558.2" y="563.8" font-size="11.5" fill="#2b2b2b" text-anchor="middle" font-weight="normal" >12</text>
<text x="614.6" y="563.8" font-size="11.5" fill="#2b2b2b" text-anchor="middle" font-weight="normal" >18</text>
<text x="659.9" y="563.8" font-size="11.5" fill="#2b2b2b" text-anchor="middle" font-weight="normal" >23</text>
<text x="801.6" y="563.8" font-size="11.5" fill="#2b2b2b" text-anchor="middle" font-weight="normal" >6</text>
<text x="856.9" y="563.8" font-size="11.5" fill="#2b2b2b" text-anchor="middle" font-weight="normal" >10</text>
<text x="913.5" y="563.8" font-size="11.5" fill="#2b2b2b" text-anchor="middle" font-weight="normal" >16</text>
<text x="748.6" y="563.8" font-size="11.5" fill="#2b2b2b" text-anchor="start" font-weight="bold" >4</text>
<g transform="translate(757.1,563.8)"><path d="M0,-7.8 h6.2 v7.3 q0,1 -1,1 h-1.2 M0.2,-7.8 v4 q0,3 -1.6,4.3 M0.2,-5.3 h5.8 M0.2,-2.9 h5.8" fill="none" stroke="#222" stroke-width="1.3"/></g>
<clipPath id="fc"><circle cx="920.4" cy="535.5" r="7.4"/></clipPath>
<circle cx="920.4" cy="535.5" r="8.9" fill="#fff" stroke="#c8404b" stroke-width="1.4"/>
<g clip-path="url(#fc)"><rect x="911" y="526" width="19" height="19" fill="#2f3f8c"/><path d="M911,526 L930,545 M930,526 L911,545" stroke="#fff" stroke-width="2.4"/><path d="M911,526 L930,545 M930,526 L911,545" stroke="#d3343f" stroke-width="0.8"/><path d="M920.4,526 V545 M911,535.5 H930" stroke="#fff" stroke-width="3.4"/><path d="M920.4,526 V545 M911,535.5 H930" stroke="#d3343f" stroke-width="1.5"/></g>
<path d="M989.2,559.2 L992,554.2 H997.8 L1000.6,559.2 L997.8,564.2 H992 Z" fill="none" stroke="#333" stroke-width="1.4"/>
<circle cx="994.9" cy="559.2" r="1.9" fill="none" stroke="#333" stroke-width="1.2"/>
<rect x="513.7" y="10" width="509" height="559.8" fill="none" stroke="#1e1e1e" stroke-width="1.8"/>
<defs><filter id="sh" x="-20%" y="-20%" width="140%" height="160%"><feDropShadow dx="0" dy="1.5" stdDeviation="1.6" flood-color="#000" flood-opacity="0.18"/></filter></defs>
<rect x="842" y="8" width="86.8" height="35" rx="6" fill="#fff" filter="url(#sh)"/>
<circle cx="849.7" cy="21.5" r="0.9" fill="#c4c7cc"/>
<circle cx="849.7" cy="25.9" r="0.9" fill="#c4c7cc"/>
<circle cx="849.7" cy="30.3" r="0.9" fill="#c4c7cc"/>
<circle cx="855" cy="21.5" r="0.9" fill="#c4c7cc"/>
<circle cx="855" cy="25.9" r="0.9" fill="#c4c7cc"/>
<circle cx="855" cy="30.3" r="0.9" fill="#c4c7cc"/>
<path d="M872.4,18.2 H887.6 V29.6 H876.4 L872.4,33.6 Z" fill="none" stroke="#222" stroke-width="1.1" stroke-linejoin="round"/>
<rect x="904.4" y="15.8" width="15.6" height="12.6" fill="none" stroke="#222" stroke-width="1.1"/>
<path d="M908.2,20.8 V18.8 H915.8 V20.8 M912,18.8 V25.6 M910.3,25.6 H913.7" fill="none" stroke="#222" stroke-width="1.1"/>
<path d="M912.2,28.4 V32.2" stroke="#222" stroke-width="1.1"/><circle cx="912.2" cy="34.2" r="1.9" fill="#fff" stroke="#222" stroke-width="1.1"/>
</svg>
</body></html>
